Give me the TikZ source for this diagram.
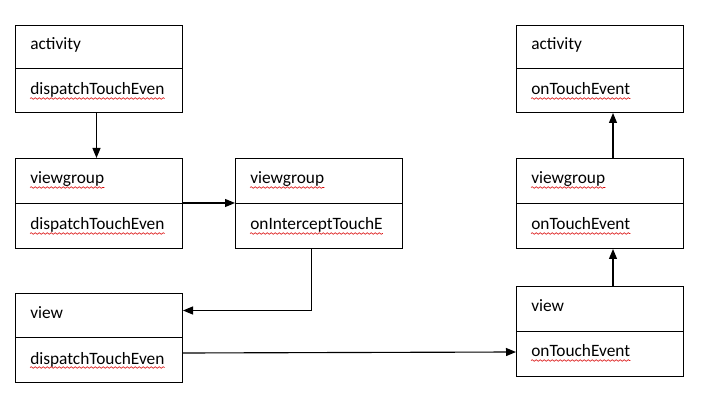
\documentclass[tikz,border=0pt]{standalone}
\usepackage{fontspec}
\setmainfont{Carlito}
\usetikzlibrary{arrows.meta,calc,decorations.pathmorphing}
\begin{document}
\begin{tikzpicture}[x=0.75pt,y=-0.75pt,
  sec/.style={draw, line width=0.75pt, minimum width=125.25pt, inner sep=0pt, anchor=north west},
  lbl/.style={anchor=base west, inner sep=0pt, font=\fontsize{13}{15}\selectfont},
  arr/.style={-{Triangle[length=7.5pt,width=6pt]}, line width=0.85pt},
  squig/.style={draw=red!85!black, line width=0.45pt, decorate,
    decoration={snake, amplitude=0.6pt, segment length=3pt}}]
\fill[white] (0,0) rectangle (710,409);
\useasboundingbox (0,0) rectangle (710,409);

% sections
\node[sec, minimum height=32.25pt] (a1)  at (15,25)  {};
\node[sec, minimum height=33pt]    (a1m) at (15,68)  {};
\node[sec, minimum height=33.75pt] (g1)  at (15,158) {};
\node[sec, minimum height=33.75pt] (g1m) at (15,203) {};
\node[sec, minimum height=33.75pt] (g2)  at (235,158) {};
\node[sec, minimum height=33.75pt] (g2m) at (235,203) {};
\node[sec, minimum height=33pt]    (v1)  at (15,293) {};
\node[sec, minimum height=33.75pt] (v1m) at (15,337) {};
\node[sec, minimum height=32.25pt] (a2)  at (516,25)  {};
\node[sec, minimum height=33pt]    (a2m) at (516,68)  {};
\node[sec, minimum height=33.75pt] (g3)  at (516,158) {};
\node[sec, minimum height=33.75pt] (g3m) at (516,203) {};
\node[sec, minimum height=33.75pt] (v2)  at (516,286) {};
\node[sec, minimum height=33.75pt] (v2m) at (516,331) {};

% labels
\node[lbl] (a1t)  at ($(a1.north west)+(15,25)$)  {activity};
\node[lbl] (a1mt) at ($(a1m.north west)+(15,27)$) {dispatchTouchEven};
\node[lbl] (g1t)  at ($(g1.north west)+(15,26)$)  {viewgroup};
\node[lbl] (g1mt) at ($(g1m.north west)+(15,27)$) {dispatchTouchEven};
\node[lbl] (g2t)  at ($(g2.north west)+(15,26)$)  {viewgroup};
\node[lbl] (g2mt) at ($(g2m.north west)+(15,27)$) {onInterceptTouchE};
\node[lbl] (v1t)  at ($(v1.north west)+(15,26)$)  {view};
\node[lbl] (v1mt) at ($(v1m.north west)+(15,27)$) {dispatchTouchEven};
\node[lbl] (a2t)  at ($(a2.north west)+(15,25)$)  {activity};
\node[lbl] (a2mt) at ($(a2m.north west)+(15,27)$) {onTouchEvent};
\node[lbl] (g3t)  at ($(g3.north west)+(15,26)$)  {viewgroup};
\node[lbl] (g3mt) at ($(g3m.north west)+(15,27)$) {onTouchEvent};
\node[lbl] (v2t)  at ($(v2.north west)+(15,26)$)  {view};
\node[lbl] (v2mt) at ($(v2m.north west)+(15,26)$) {onTouchEvent};

% spell-check underlines
\foreach \t in {a1mt,g1t,g1mt,g2t,g2mt,v1mt,a2mt,g3t,g3mt,v2mt}{
  \draw[squig] ($(\t.base west)+(0,3.5)$) -- ($(\t.base east)+(0,3.5)$);
}

% connectors
\draw[arr] ($(a1m.south)+(-2.5,0)$) -- ($(g1.north)+(-2.5,0)$);
\draw[arr] (g1m.north east) -- (g2m.north west);
\draw[arr] ($(g2m.south)+(-7.5,0)$) |- ($(v1.east)+(0,-5)$);
\draw[arr] ($(v1m.east)+(0,-7)$) -- ($(v2m.west)+(0,-2)$);
\draw[arr] ($(v2.north)+(13,0)$) -- ($(g3m.south)+(13,0)$);
\draw[arr] ($(g3.north)+(13,0)$) -- ($(a2m.south)+(13,0)$);
\end{tikzpicture}
\end{document}
